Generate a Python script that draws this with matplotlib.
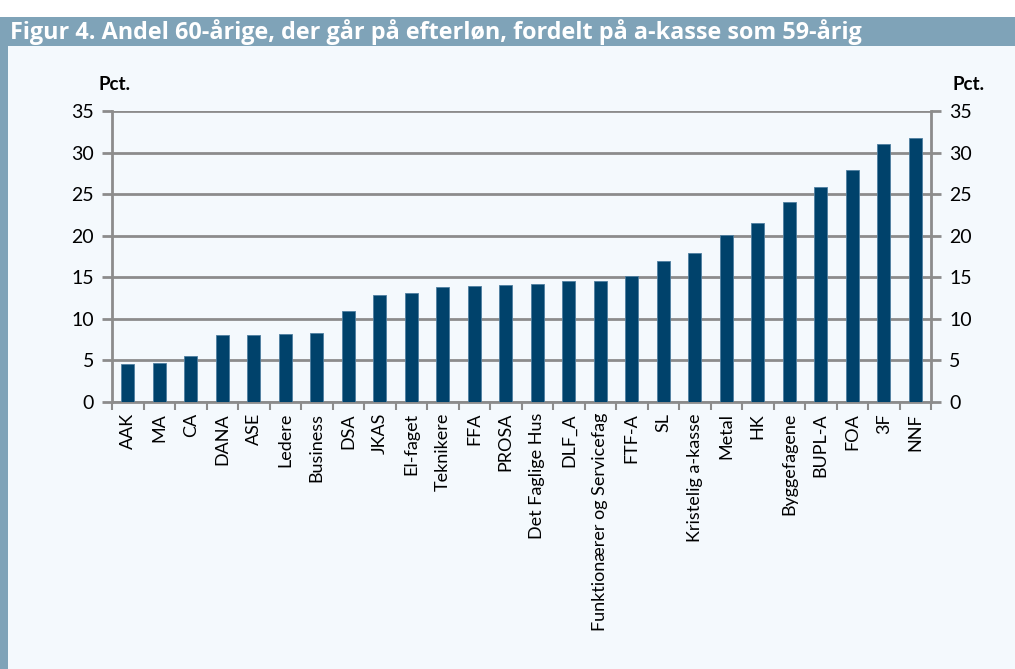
import matplotlib
matplotlib.use("Agg")
import matplotlib.pyplot as plt
from matplotlib.patches import Rectangle

categories = ["AAK", "MA", "CA", "DANA", "ASE", "Ledere", "Business", "DSA", "JKAS",
              "El-faget", "Teknikere", "FFA", "PROSA", "Det Faglige Hus", "DLF_A",
              "Funktionærer og Servicefag", "FTF-A", "SL", "Kristelig a-kasse", "Metal",
              "HK", "Byggefagene", "BUPL-A", "FOA", "3F", "NNF"]
values = [4.6, 4.7, 5.5, 8.0, 8.1, 8.2, 8.3, 11.0, 12.9, 13.1, 13.8, 13.9, 14.1, 14.2,
          14.5, 14.6, 15.2, 17.0, 17.9, 20.1, 21.5, 24.1, 25.9, 27.9, 31.0, 31.7]
yticks = [0, 5, 10, 15, 20, 25, 30, 35]
title = "Figur 4. Andel 60-årige, der går på efterløn, fordelt på a-kasse som 59-årig"

BG = "#f4f9fd"
BAND = "#7fa3b8"
BAR = "#00426b"
GRID = "#8c8c8c"
FONT = "Lato"

fig = plt.figure(figsize=(10.15, 6.69), dpi=100)
fig.patch.set_facecolor("white")
W, H = 1015, 669
# background panel
fig.patches.append(Rectangle((0, 0), 1, 1 - 17 / H, transform=fig.transFigure,
                             facecolor=BG, edgecolor="none", zorder=-3))
# title band
fig.patches.append(Rectangle((0, 1 - 46 / H), 1, 29 / H, transform=fig.transFigure,
                             facecolor=BAND, edgecolor="none", zorder=-2))
# left border
fig.patches.append(Rectangle((0, 0), 8 / W, 1 - 17 / H, transform=fig.transFigure,
                             facecolor=BAND, edgecolor="none", zorder=-2))
fig.text(10 / W, 1 - 32 / H, title, color="white", fontsize=16.8, fontweight="bold",
         family=["Open Sans", "DejaVu Sans"], va="center", ha="left")

ax = fig.add_axes([112 / W, 1 - 402 / H, (931 - 112) / W, (402 - 111) / H])
ax.set_facecolor("none")
x = list(range(len(categories)))
ax.bar(x, values, width=0.42, color=BAR, edgecolor="#4f7fa0", linewidth=0.6, zorder=3)
ax.set_xlim(-0.5, len(categories) - 0.5)
ax.set_ylim(0, 35)
ax.set_yticks(yticks)
ax.yaxis.grid(True, color=GRID, linewidth=2, zorder=1)
ax.set_axisbelow(True)

ax.spines["top"].set_visible(False)
for s in ["left", "right", "bottom"]:
    ax.spines[s].set_color(GRID)
    ax.spines[s].set_linewidth(2)

ax.tick_params(axis="y", which="both", left=True, right=True, labelleft=True,
               labelright=True, length=7, width=2, color=GRID, labelsize=14,
               pad=6, direction="out")
for t in ax.yaxis.get_major_ticks():
    t.label2.set_family(FONT)
    t.label1.set_family(FONT)

ax.set_xticks([i + 0.5 for i in range(-1, len(categories))], minor=False)
ax.set_xticklabels([])
ax.set_xticks(x, minor=True)
ax.set_xticklabels(categories, minor=True, rotation=90, fontsize=13, family=FONT)
ax.tick_params(axis="x", which="major", length=6, width=1.5, color=GRID, direction="out")
ax.tick_params(axis="x", which="minor", length=0, pad=8)

fig.text(98 / W, 1 - 84 / H, "Pct.", fontsize=13.5, fontweight="bold", family=FONT,
         ha="left", va="center")
fig.text(952 / W, 1 - 84 / H, "Pct.", fontsize=13.5, fontweight="bold", family=FONT,
         ha="left", va="center")

fig.savefig("out.png", dpi=100, facecolor=fig.get_facecolor())
